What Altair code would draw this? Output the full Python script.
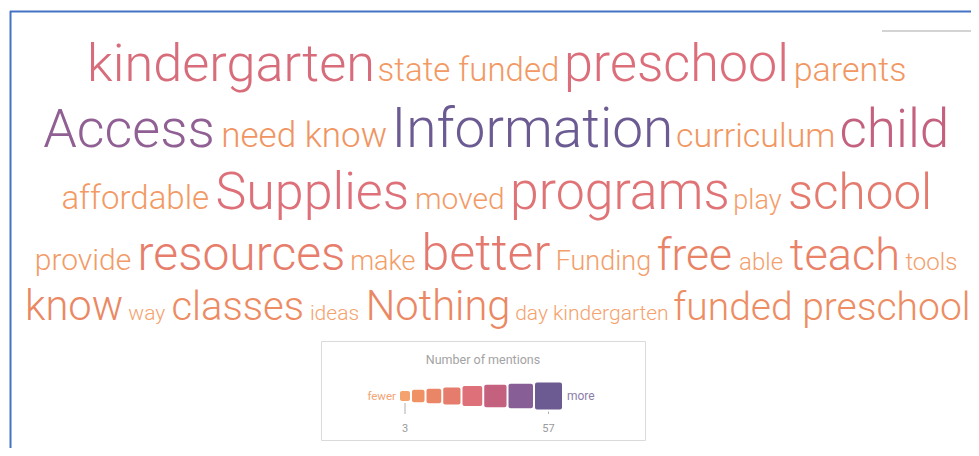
import altair as alt
import pandas as pd

# ---------------- data ----------------
words = ["kindergarten", "state funded", "preschool", "parents",
         "Access", "need know", "Information", "curriculum", "child",
         "affordable", "Supplies", "moved", "programs", "play", "school",
         "provide", "resources", "make", "better", "Funding", "free", "able", "teach", "tools",
         "know", "way", "classes", "ideas", "Nothing", "day kindergarten", "funded preschool"]
mentions = [36, 7, 35, 8,
            48, 9, 57, 8, 42,
            7, 34, 6, 32, 5, 27,
            6, 25, 5, 28, 5, 20, 4, 21, 4,
            16, 3, 14, 3, 16, 3, 13]
rows = [1] * 4 + [2] * 5 + [3] * 6 + [4] * 9 + [5] * 7

legend_counts = [3, 11, 18, 26, 34, 42, 49, 57]
legend_title = "Number of mentions"
legend_low = "fewer"
legend_high = "more"

# ---------------- scales / styling ----------------
SIZE_DOMAIN = [3, 7, 15, 30, 57]
SIZE_RANGE = [21, 33, 41, 51.5, 55]
COLOR_DOMAIN = [3, 8, 15, 26, 34, 42, 49, 57]
COLOR_RANGE = ["#F4A26E", "#F19762", "#EC8963", "#E67C6C", "#DE7079", "#C3617F", "#875F96", "#6C5B92"]
FONT = "Roboto"
WEIGHT = 300

W, H = 963, 440
OX, OY = 8, 8

ADV = {"a": 1087, "b": 1120, "c": 1044, "d": 1126, "e": 1058, "f": 694, "g": 1120,
       "h": 1100, "i": 486, "k": 1014, "l": 486, "m": 1751, "n": 1102, "o": 1139,
       "p": 1120, "r": 678, "s": 1030, "t": 653, "u": 1101, "v": 967, "w": 1502,
       "y": 945, "A": 1336, "F": 1134, "I": 558, "N": 1430, "S": 1217, " ": 498}


def em(s):
    return 0.995 * sum(ADV.get(ch, 1100) for ch in s) / 2048.0


def interp(v, dom, rng):
    for i in range(len(dom) - 1):
        if v <= dom[i + 1]:
            t = (v - dom[i]) / (dom[i + 1] - dom[i])
            return rng[i] + t * (rng[i + 1] - rng[i])
    return rng[-1]


# ---------------- word-cloud layout (rows, centred) ----------------
GAP = 7
CENTER = 496
FIRST_BASE = 81
LEAD = 1.2
recs = []
base = None
for r in sorted(set(rows)):
    idx = [i for i in range(len(words)) if rows[i] == r]
    sizes = [interp(mentions[i], SIZE_DOMAIN, SIZE_RANGE) for i in idx]
    widths = [s * em(words[i]) for s, i in zip(sizes, idx)]
    total = sum(widths) + GAP * (len(idx) - 1)
    base = FIRST_BASE if base is None else base + LEAD * max(sizes)
    x = CENTER - total / 2
    for i, w in zip(idx, widths):
        recs.append({"word": words[i], "mentions": mentions[i], "x": x, "y": base})
        x += w + GAP
words_df = pd.DataFrame(recs)

# ---------------- legend layout ----------------
SQ_LEFT, SQ_MID, SQ_GAP = 400, 396, 2
sq = []
left = SQ_LEFT
for c in legend_counts:
    side = 10 + (c - legend_counts[0]) / (legend_counts[-1] - legend_counts[0]) * 17
    sq.append({"mentions": c, "x": left, "x2": left + side,
               "y": SQ_MID - side / 2, "y2": SQ_MID + side / 2, "cx": left + side / 2})
    left += side + SQ_GAP
sq_df = pd.DataFrame(sq)
tick_df = pd.DataFrame([
    {"x": sq[0]["cx"], "y": sq[0]["y2"] + 2, "y2": 414, "label": str(min(mentions))},
    {"x": sq[-1]["cx"], "y": sq[-1]["y2"] + 2, "y2": 414, "label": str(max(mentions))},
])

xs = alt.Scale(domain=[OX, OX + W], nice=False, zero=False)
ys = alt.Scale(domain=[OY, OY + H], nice=False, zero=False, reverse=True)
cscale = alt.Scale(domain=COLOR_DOMAIN, range=COLOR_RANGE, interpolate="rgb")
one = pd.DataFrame({"a": [0]})

# decorations (page coordinates minus the 8px offset)
frame_left = alt.Chart(one).mark_rule(color="#4472C4", strokeWidth=2).encode(
    x=alt.value(2.5), y=alt.value(3), y2=alt.value(H))
frame_top = alt.Chart(one).mark_rule(color="#4472C4", strokeWidth=2).encode(
    x=alt.value(2), x2=alt.value(W), y=alt.value(3.5))
grey_line = alt.Chart(one).mark_rule(color="#C4C4C4", strokeWidth=1.5).encode(
    x=alt.value(874), x2=alt.value(W), y=alt.value(23))

box = alt.Chart(one).mark_rect(fill="white", stroke="#DADADA", strokeWidth=1).encode(
    x=alt.value(313.5), x2=alt.value(637.5), y=alt.value(333.5), y2=alt.value(432.5))

title_txt = alt.Chart(one).mark_text(font=FONT, fontSize=12.5, color="#A3A3A3",
                                     align="center", baseline="alphabetic",
                                     text=legend_title).encode(
    x=alt.value(475), y=alt.value(356))
low_txt = alt.Chart(one).mark_text(font=FONT, fontSize=11.5, color="#F2A476",
                                   align="right", baseline="alphabetic",
                                   text=legend_low).encode(
    x=alt.value(SQ_LEFT - 4 - OX), y=alt.value(SQ_MID + 4 - OY))
high_txt = alt.Chart(one).mark_text(font=FONT, fontSize=12, color="#8C7DAA",
                                    align="left", baseline="alphabetic",
                                    text=legend_high).encode(
    x=alt.value(left + 3 - OX), y=alt.value(SQ_MID + 4 - OY))

squares = alt.Chart(sq_df).mark_rect(cornerRadius=2).encode(
    x=alt.X("x:Q", scale=xs, axis=None), x2="x2:Q",
    y=alt.Y("y:Q", scale=ys, axis=None), y2="y2:Q",
    color=alt.Color("mentions:Q", scale=cscale, legend=None))

ticks = alt.Chart(tick_df).mark_rule(color="#AFAFAF", strokeWidth=1).encode(
    x=alt.X("x:Q", scale=xs, axis=None),
    y=alt.Y("y:Q", scale=ys, axis=None), y2="y2:Q")
tick_labels = alt.Chart(tick_df).mark_text(font=FONT, fontSize=11, color="#9A9A9A",
                                           align="center", baseline="alphabetic",
                                           dy=18).encode(
    x=alt.X("x:Q", scale=xs, axis=None),
    y=alt.Y("y2:Q", scale=ys, axis=None), text="label:N")

cloud = alt.Chart(words_df).mark_text(align="left", baseline="alphabetic", font=FONT,
                                      fontWeight=WEIGHT).encode(
    x=alt.X("x:Q", scale=xs, axis=None),
    y=alt.Y("y:Q", scale=ys, axis=None),
    text="word:N",
    size=alt.Size("mentions:Q", scale=alt.Scale(domain=SIZE_DOMAIN, range=SIZE_RANGE), legend=None),
    color=alt.Color("mentions:Q", scale=cscale, legend=None))

chart = alt.layer(frame_left, frame_top, grey_line, box, title_txt, low_txt, high_txt,
                  squares, ticks, tick_labels, cloud).properties(
    width=W, height=H, padding=0, autosize="none", background="white"
).configure_view(stroke=None)

chart.save("out.html", embed_options={"renderer": "svg", "actions": False})
